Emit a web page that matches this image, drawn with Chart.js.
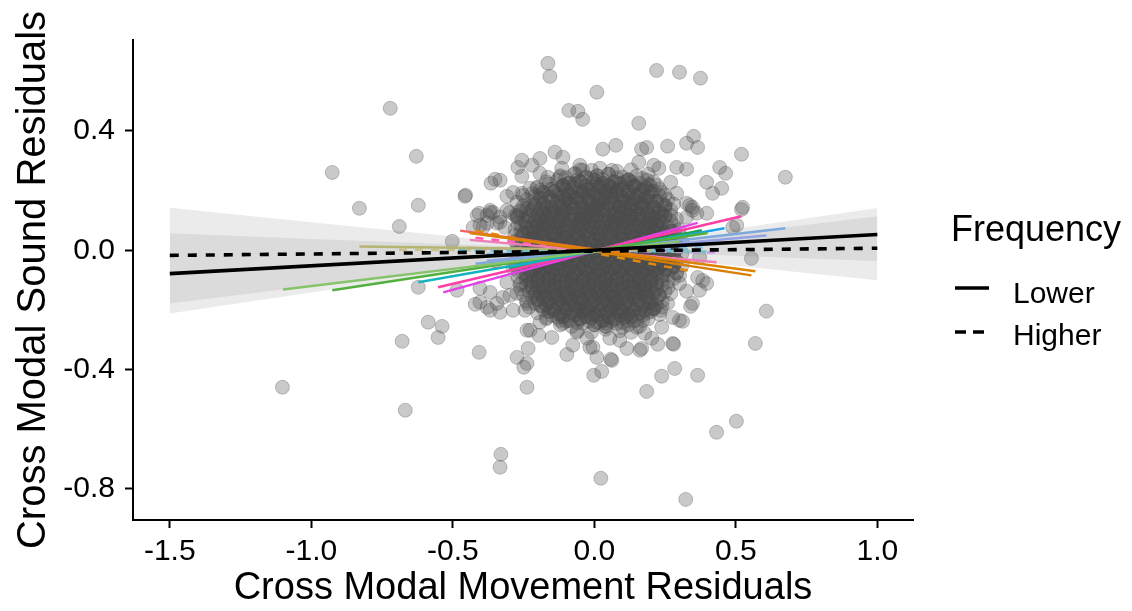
<!DOCTYPE html>
<html>
<head>
<meta charset="utf-8">
<script src="https://cdn.jsdelivr.net/npm/chart.js@4.4.0/dist/chart.umd.min.js"></script>
<style>
  html, body { margin: 0; padding: 0; background: #fff; }
  #wrap { width: 1132px; height: 611px; }
</style>
</head>
<body>
<div id="wrap"><canvas id="residChart" width="1132" height="611"></canvas></div>
<script>
const xTicks = [-1.5, -1.0, -0.5, 0.0, 0.5, 1.0];
const yTicks = [-0.8, -0.4, 0.0, 0.4];

// single trials away from the middle of the cloud [x, y]
const trialPoints = [
  [-0.164,0.627],[-0.157,0.583],[0.009,0.530],[0.220,0.603],[0.301,0.597],[0.375,0.577],
  [-0.721,0.476],[-0.090,0.469],[-0.058,0.466],[-0.041,0.439],[0.157,0.426],
  [-0.926,0.261],[-0.629,0.315],[-0.830,0.141],[-0.622,0.151],[-0.689,0.080],
  [-0.457,0.181],[-0.455,0.185],[-0.502,0.030],[-0.365,0.225],[-0.351,0.238],
  [-0.256,0.302],[-0.270,0.278],[-0.256,0.248],[-0.407,0.124],[-0.368,0.127],
  [-0.428,0.077],[-0.393,0.077],[-0.309,0.181],[-0.287,0.194],[-0.256,0.191],
  [-0.309,0.134],[-0.273,0.111],[-0.344,0.091],[0.030,0.339],[0.076,0.352],
  [0.167,0.339],[0.185,0.345],[0.259,0.349],[0.326,0.359],[0.351,0.382],[0.365,0.345],
  [0.520,0.322],[0.675,0.245],[0.157,0.295],[0.210,0.285],[0.228,0.275],[0.291,0.278],
  [0.326,0.272],[0.443,0.278],[0.464,0.258],[0.397,0.228],[0.418,0.191],[0.450,0.208],
  [0.291,0.191],[0.520,0.137],[0.397,0.124],[0.347,0.134],[0.326,0.158],
  [-0.139,0.329],[-0.111,0.312],[-0.192,0.308],[-0.220,0.285],[-0.192,0.258],
  [-0.164,0.245],[-0.115,0.275],[-0.122,0.245],[-0.069,0.258],[-0.041,0.268],
  [-0.009,0.268],[0.062,0.268],[0.132,0.228],[0.185,0.235],[0.220,0.218],[0.270,0.228],
  [-0.252,0.184],[-0.203,0.211],[-0.192,0.184],[-0.280,0.117],[-0.333,0.235],
  [-0.051,0.285],[0.107,0.228],[0.196,0.218],[0.238,0.194],[-0.228,0.208],
  [-0.368,0.134],[-0.333,0.111],[-0.379,0.091],[-0.263,0.134],[-0.273,0.161],
  [0.347,0.144],[-0.404,0.084],[-0.379,0.117],[-0.358,0.127],[-0.333,0.094],
  [-0.414,0.117],[-0.298,0.127],[-0.273,0.117],[-0.238,0.141],[-0.316,0.077],
  [0.524,0.144],[0.337,0.151],[0.362,0.124],[0.326,0.111],[0.489,0.077],[0.503,0.084],
  [0.555,-0.027],[0.372,-0.023],[0.383,-0.101],[0.291,-0.077],[0.301,-0.111],
  [-0.287,-0.060],[-0.309,-0.107],[-0.263,-0.117],[-0.368,-0.141],[-0.228,-0.107],
  [-0.203,-0.141],[-0.298,-0.151],
  [-1.102,-0.459],[-0.668,-0.536],[-0.330,-0.684],[-0.333,-0.727],[-0.679,-0.305],
  [-0.587,-0.241],[-0.538,-0.255],[-0.552,-0.292],[-0.407,-0.342],[-0.273,-0.359],
  [-0.249,-0.392],[-0.238,-0.459],[-0.622,-0.124],[-0.485,-0.134],[-0.421,-0.181],
  [-0.404,-0.174],[-0.368,-0.201],[-0.333,-0.208],[-0.287,-0.201],[-0.245,-0.201],
  [-0.344,-0.178],[-0.323,-0.158],[-0.273,-0.144],[-0.404,-0.127],[-0.238,-0.268],
  [-0.234,-0.329],[0.608,-0.204],[0.569,-0.312],[0.502,-0.573],[0.432,-0.610],
  [0.023,-0.764],[0.323,-0.835],[0.185,-0.473],[0.238,-0.422],[0.284,-0.396],
  [0.365,-0.419],[-0.150,-0.292],[-0.097,-0.349],[-0.076,-0.318],[-0.002,-0.419],
  [0.026,-0.406],[0.058,-0.365],[0.115,-0.329],[0.167,-0.329],[0.224,-0.315],
  [0.280,-0.315],[0.238,-0.258],[0.234,-0.201],[0.277,-0.225],[0.312,-0.238],
  [0.340,-0.188],[0.326,-0.137],[0.372,-0.134],[0.397,-0.111],[0.365,-0.091],
  [0.301,-0.084],[-0.005,-0.325],[0.009,-0.359],[-0.026,-0.295],[-0.062,-0.275],
  [-0.192,-0.241],[-0.227,-0.268],[-0.122,-0.235],[0.009,-0.241],[0.065,-0.225],
  [0.100,-0.258],[0.150,-0.258],[0.171,-0.235],[0.178,-0.278],[0.136,-0.211],
  [0.055,-0.295],[0.090,-0.302],[-0.238,-0.379],[-0.016,-0.325],[0.062,-0.369],
  [0.161,-0.335],[0.301,-0.235],[0.347,-0.178],[0.277,-0.312],[-0.168,-0.225],
  [-0.111,-0.245],[-0.051,-0.225],[0.044,-0.245],[0.115,-0.235],[0.185,-0.211],
  [-0.379,-0.191],[-0.238,-0.178],[-0.196,-0.285],[0.203,-0.295],[0.259,-0.178]
];

// dense middle of the cloud [x, y, trials stacked there]
const centreCloud = [
  [-0.05,0.27,1],[0.02,0.275,1],[0.08,0.265,1],[0.13,0.27,1],
  [-0.12,0.25,1],[-0.07,0.255,1],[-0.03,0.245,2],[0.01,0.25,2],[0.05,0.255,2],[0.10,0.245,1],[0.15,0.25,1],[0.19,0.255,1],
  [-0.17,0.23,1],[-0.13,0.235,1],[-0.09,0.225,2],[-0.05,0.23,2],[0.0,0.235,2],[0.03,0.225,2],[0.07,0.23,2],[0.12,0.235,2],[0.16,0.225,1],[0.21,0.23,1],
  [-0.20,0.21,1],[-0.15,0.205,2],[-0.11,0.215,2],[-0.07,0.21,2],[-0.02,0.205,3],[0.02,0.215,3],[0.06,0.21,3],[0.10,0.205,2],[0.14,0.215,2],[0.18,0.21,2],[0.23,0.205,1],
  [-0.22,0.19,1],[-0.18,0.195,2],[-0.13,0.185,2],[-0.09,0.19,3],[-0.04,0.195,3],[0.0,0.185,3],[0.04,0.19,3],[0.08,0.195,3],[0.12,0.185,3],[0.16,0.19,2],[0.20,0.195,2],[0.25,0.185,1],
  [-0.24,0.17,1],[-0.19,0.175,2],[-0.15,0.165,2],[-0.10,0.17,3],[-0.06,0.175,3],[-0.02,0.165,3],[0.02,0.17,3],[0.06,0.175,3],[0.10,0.165,3],[0.14,0.17,3],[0.18,0.175,2],[0.22,0.165,2],[0.26,0.17,1],
  [-0.25,0.15,1],[-0.21,0.155,2],[-0.17,0.145,2],[-0.12,0.15,3],[-0.08,0.155,3],[-0.04,0.145,3],[0.01,0.15,3],[0.05,0.155,3],[0.09,0.145,3],[0.13,0.15,3],[0.17,0.155,3],[0.21,0.145,2],[0.25,0.15,2],[0.28,0.155,1],
  [-0.26,0.13,1],[-0.22,0.135,2],[-0.18,0.125,3],[-0.14,0.13,3],[-0.10,0.135,3],[-0.05,0.125,3],[-0.01,0.13,3],[0.03,0.135,3],[0.07,0.125,3],[0.11,0.13,3],[0.15,0.135,3],[0.19,0.125,3],[0.23,0.13,2],[0.27,0.135,1],
  [-0.27,0.11,1],[-0.23,0.115,2],[-0.19,0.105,3],[-0.15,0.11,3],[-0.11,0.115,3],[-0.07,0.105,3],[-0.03,0.11,3],[0.01,0.115,3],[0.05,0.105,3],[0.09,0.11,3],[0.13,0.115,3],[0.17,0.105,3],[0.21,0.11,3],[0.25,0.115,2],[0.29,0.105,1],
  [-0.27,0.09,1],[-0.24,0.095,2],[-0.20,0.085,3],[-0.16,0.09,3],[-0.12,0.095,3],[-0.08,0.085,3],[-0.04,0.09,3],[0.0,0.095,3],[0.04,0.085,3],[0.08,0.09,3],[0.12,0.095,3],[0.16,0.085,3],[0.20,0.09,3],[0.24,0.095,2],[0.28,0.085,1],
  [-0.28,0.07,1],[-0.24,0.075,2],[-0.21,0.065,3],[-0.17,0.07,3],[-0.13,0.075,3],[-0.09,0.065,3],[-0.05,0.07,3],[-0.01,0.075,3],[0.03,0.065,3],[0.07,0.07,3],[0.11,0.075,3],[0.15,0.065,3],[0.19,0.07,3],[0.23,0.075,3],[0.27,0.065,2],[0.30,0.07,1],
  [-0.28,0.05,1],[-0.25,0.055,2],[-0.21,0.045,3],[-0.18,0.05,3],[-0.14,0.055,3],[-0.10,0.045,3],[-0.06,0.05,3],[-0.02,0.055,3],[0.02,0.045,3],[0.06,0.05,3],[0.10,0.055,3],[0.14,0.045,3],[0.18,0.05,3],[0.22,0.055,3],[0.26,0.045,2],[0.30,0.05,1],
  [-0.28,0.03,1],[-0.24,0.035,2],[-0.20,0.025,3],[-0.16,0.03,3],[-0.12,0.035,3],[-0.08,0.025,3],[-0.04,0.03,3],[0.0,0.035,3],[0.04,0.025,3],[0.08,0.03,3],[0.12,0.035,3],[0.16,0.025,3],[0.20,0.03,3],[0.24,0.035,3],[0.28,0.025,2],[0.31,0.03,1],
  [-0.27,0.01,1],[-0.23,0.015,2],[-0.19,0.005,3],[-0.15,0.01,3],[-0.11,0.015,3],[-0.07,0.005,3],[-0.03,0.01,3],[0.01,0.015,3],[0.05,0.005,3],[0.09,0.01,3],[0.13,0.015,3],[0.17,0.005,3],[0.21,0.01,3],[0.25,0.015,2],[0.29,0.005,1],
  [-0.28,-0.01,1],[-0.24,-0.005,2],[-0.20,-0.015,3],[-0.16,-0.01,3],[-0.12,-0.005,3],[-0.08,-0.015,3],[-0.04,-0.01,3],[0.0,-0.005,3],[0.04,-0.015,3],[0.08,-0.01,3],[0.12,-0.005,3],[0.16,-0.015,3],[0.20,-0.01,3],[0.24,-0.005,3],[0.28,-0.015,2],[0.31,-0.01,1],
  [-0.27,-0.03,1],[-0.23,-0.025,2],[-0.19,-0.035,3],[-0.15,-0.03,3],[-0.11,-0.025,3],[-0.07,-0.035,3],[-0.03,-0.03,3],[0.01,-0.025,3],[0.05,-0.035,3],[0.09,-0.03,3],[0.13,-0.025,3],[0.17,-0.035,3],[0.21,-0.03,3],[0.25,-0.025,2],[0.29,-0.035,1],
  [-0.28,-0.05,1],[-0.24,-0.045,2],[-0.20,-0.055,3],[-0.16,-0.05,3],[-0.12,-0.045,3],[-0.08,-0.055,3],[-0.04,-0.05,3],[0.0,-0.045,3],[0.04,-0.055,3],[0.08,-0.05,3],[0.12,-0.045,3],[0.16,-0.055,3],[0.20,-0.05,3],[0.24,-0.045,3],[0.28,-0.055,2],[0.31,-0.05,1],
  [-0.27,-0.07,1],[-0.23,-0.065,2],[-0.19,-0.075,3],[-0.15,-0.07,3],[-0.11,-0.065,3],[-0.07,-0.075,3],[-0.03,-0.07,3],[0.01,-0.065,3],[0.05,-0.075,3],[0.09,-0.07,3],[0.13,-0.065,3],[0.17,-0.075,3],[0.21,-0.07,3],[0.25,-0.065,2],[0.29,-0.075,1],
  [-0.27,-0.09,1],[-0.24,-0.085,2],[-0.20,-0.095,3],[-0.16,-0.09,3],[-0.12,-0.085,3],[-0.08,-0.095,3],[-0.04,-0.09,3],[0.0,-0.085,3],[0.04,-0.095,3],[0.08,-0.09,3],[0.12,-0.085,3],[0.16,-0.095,3],[0.20,-0.09,3],[0.24,-0.085,2],[0.28,-0.095,1],
  [-0.26,-0.11,1],[-0.22,-0.105,2],[-0.18,-0.115,3],[-0.14,-0.11,3],[-0.10,-0.105,3],[-0.06,-0.115,3],[-0.02,-0.11,3],[0.02,-0.105,3],[0.06,-0.115,3],[0.10,-0.11,3],[0.14,-0.105,3],[0.18,-0.115,3],[0.22,-0.11,2],[0.26,-0.105,1],
  [-0.26,-0.13,1],[-0.22,-0.125,2],[-0.18,-0.135,3],[-0.14,-0.13,3],[-0.10,-0.125,3],[-0.06,-0.135,3],[-0.02,-0.13,3],[0.02,-0.125,3],[0.06,-0.135,3],[0.10,-0.13,3],[0.14,-0.125,3],[0.18,-0.135,3],[0.22,-0.13,2],[0.26,-0.125,1],
  [-0.25,-0.15,1],[-0.21,-0.145,2],[-0.17,-0.155,3],[-0.13,-0.15,3],[-0.09,-0.145,3],[-0.05,-0.155,3],[-0.01,-0.15,3],[0.03,-0.145,3],[0.07,-0.155,3],[0.11,-0.15,3],[0.15,-0.145,3],[0.19,-0.155,2],[0.23,-0.15,2],[0.27,-0.145,1],
  [-0.24,-0.17,1],[-0.20,-0.165,2],[-0.16,-0.175,2],[-0.12,-0.17,3],[-0.08,-0.165,3],[-0.04,-0.175,3],[0.0,-0.17,3],[0.04,-0.165,3],[0.08,-0.175,3],[0.12,-0.17,3],[0.16,-0.165,2],[0.20,-0.175,2],[0.24,-0.17,1],
  [-0.23,-0.19,1],[-0.19,-0.185,2],[-0.15,-0.195,2],[-0.11,-0.19,3],[-0.07,-0.185,3],[-0.03,-0.195,3],[0.01,-0.19,3],[0.05,-0.185,3],[0.09,-0.195,3],[0.13,-0.19,2],[0.17,-0.185,2],[0.21,-0.195,2],[0.24,-0.19,1],
  [-0.20,-0.21,1],[-0.16,-0.205,2],[-0.12,-0.215,2],[-0.08,-0.21,2],[-0.04,-0.205,3],[0.0,-0.215,3],[0.04,-0.21,3],[0.08,-0.205,2],[0.12,-0.215,2],[0.16,-0.21,2],[0.20,-0.205,1],[0.23,-0.215,1],
  [-0.17,-0.23,1],[-0.13,-0.225,1],[-0.09,-0.235,2],[-0.05,-0.23,2],[-0.01,-0.225,2],[0.03,-0.235,2],[0.07,-0.23,2],[0.11,-0.225,2],[0.15,-0.235,1],[0.19,-0.23,1],
  [-0.12,-0.25,1],[-0.08,-0.255,1],[-0.04,-0.245,1],[0.0,-0.25,2],[0.04,-0.255,2],[0.08,-0.245,1],[0.12,-0.25,1],[0.16,-0.255,1],
  [-0.06,-0.27,1],[-0.01,-0.275,1],[0.04,-0.265,1],[0.09,-0.27,1],[0.13,-0.275,1]
];

// second, offset layer of the dense middle [x, y, trials stacked there]
const centreCloudB = [
  [-0.10,0.244,1],[-0.06,0.236,1],[-0.01,0.242,1],[0.03,0.238,1],[0.08,0.243,1],[0.12,0.237,1],[0.17,0.241,1],
  [-0.16,0.222,1],[-0.11,0.218,2],[-0.07,0.223,2],[-0.03,0.217,2],[0.01,0.222,2],[0.05,0.218,2],[0.09,0.223,2],[0.14,0.217,2],[0.19,0.221,1],
  [-0.19,0.202,1],[-0.14,0.198,2],[-0.10,0.203,2],[-0.05,0.197,2],[-0.01,0.202,2],[0.04,0.198,2],[0.08,0.203,2],[0.12,0.197,2],[0.17,0.202,2],[0.21,0.198,1],
  [-0.21,0.182,1],[-0.16,0.178,2],[-0.11,0.183,2],[-0.07,0.177,2],[-0.02,0.182,2],[0.02,0.178,2],[0.06,0.183,2],[0.10,0.177,2],[0.15,0.182,2],[0.19,0.178,2],[0.23,0.183,1],
  [-0.22,0.162,1],[-0.18,0.158,2],[-0.13,0.163,2],[-0.09,0.157,2],[-0.05,0.162,2],[-0.01,0.158,2],[0.03,0.163,2],[0.07,0.157,2],[0.11,0.162,2],[0.16,0.158,2],[0.20,0.163,2],[0.24,0.157,1],
  [-0.23,0.142,1],[-0.19,0.138,2],[-0.15,0.143,2],[-0.11,0.137,2],[-0.07,0.142,2],[-0.03,0.138,2],[0.01,0.143,2],[0.05,0.137,2],[0.09,0.142,2],[0.13,0.138,2],[0.17,0.143,2],[0.21,0.137,2],[0.25,0.142,1],
  [-0.24,0.122,1],[-0.20,0.118,2],[-0.16,0.123,2],[-0.12,0.117,2],[-0.08,0.122,2],[-0.04,0.118,2],[0.0,0.123,2],[0.04,0.117,2],[0.08,0.122,2],[0.12,0.118,2],[0.16,0.123,2],[0.20,0.117,2],[0.24,0.122,2],[0.27,0.118,1],
  [-0.25,0.102,1],[-0.21,0.098,2],[-0.17,0.103,2],[-0.13,0.097,2],[-0.09,0.102,2],[-0.05,0.098,2],[-0.01,0.103,2],[0.03,0.097,2],[0.07,0.102,2],[0.11,0.098,2],[0.15,0.103,2],[0.19,0.097,2],[0.23,0.102,2],[0.27,0.098,1],
  [-0.26,0.082,1],[-0.22,0.078,2],[-0.18,0.083,2],[-0.14,0.077,2],[-0.10,0.082,2],[-0.06,0.078,2],[-0.02,0.083,2],[0.02,0.077,2],[0.06,0.082,2],[0.10,0.078,2],[0.14,0.083,2],[0.18,0.077,2],[0.22,0.082,2],[0.26,0.078,1],
  [-0.26,0.062,1],[-0.23,0.058,2],[-0.19,0.063,2],[-0.15,0.057,2],[-0.11,0.062,2],[-0.07,0.058,2],[-0.03,0.063,2],[0.01,0.057,2],[0.05,0.062,2],[0.09,0.058,2],[0.13,0.063,2],[0.17,0.057,2],[0.21,0.062,2],[0.25,0.058,2],[0.28,0.063,1],
  [-0.26,0.042,1],[-0.22,0.038,2],[-0.18,0.043,2],[-0.14,0.037,2],[-0.10,0.042,2],[-0.06,0.038,2],[-0.02,0.043,2],[0.02,0.037,2],[0.06,0.042,2],[0.10,0.038,2],[0.14,0.043,2],[0.18,0.037,2],[0.22,0.042,2],[0.26,0.038,2],[0.29,0.043,1],
  [-0.25,0.022,1],[-0.21,0.018,2],[-0.17,0.023,2],[-0.13,0.017,2],[-0.09,0.022,2],[-0.05,0.018,2],[-0.01,0.023,2],[0.03,0.017,2],[0.07,0.022,2],[0.11,0.018,2],[0.15,0.023,2],[0.19,0.017,2],[0.23,0.022,2],[0.27,0.018,1],
  [-0.26,0.002,1],[-0.22,-0.002,2],[-0.18,0.003,2],[-0.14,-0.003,2],[-0.10,0.002,2],[-0.06,-0.002,2],[-0.02,0.003,2],[0.02,-0.003,2],[0.06,0.002,2],[0.10,-0.002,2],[0.14,0.003,2],[0.18,-0.003,2],[0.22,0.002,2],[0.26,-0.002,2],[0.29,0.003,1],
  [-0.25,-0.018,1],[-0.21,-0.022,2],[-0.17,-0.017,2],[-0.13,-0.023,2],[-0.09,-0.018,2],[-0.05,-0.022,2],[-0.01,-0.017,2],[0.03,-0.023,2],[0.07,-0.018,2],[0.11,-0.022,2],[0.15,-0.017,2],[0.19,-0.023,2],[0.23,-0.018,2],[0.27,-0.022,1],
  [-0.26,-0.038,1],[-0.22,-0.042,2],[-0.18,-0.037,2],[-0.14,-0.043,2],[-0.10,-0.038,2],[-0.06,-0.042,2],[-0.02,-0.037,2],[0.02,-0.043,2],[0.06,-0.038,2],[0.10,-0.042,2],[0.14,-0.037,2],[0.18,-0.043,2],[0.22,-0.038,2],[0.26,-0.042,2],[0.29,-0.037,1],
  [-0.25,-0.058,1],[-0.21,-0.062,2],[-0.17,-0.057,2],[-0.13,-0.063,2],[-0.09,-0.058,2],[-0.05,-0.062,2],[-0.01,-0.057,2],[0.03,-0.063,2],[0.07,-0.058,2],[0.11,-0.062,2],[0.15,-0.057,2],[0.19,-0.063,2],[0.23,-0.058,2],[0.27,-0.062,1],
  [-0.25,-0.078,1],[-0.22,-0.082,2],[-0.18,-0.077,2],[-0.14,-0.083,2],[-0.10,-0.078,2],[-0.06,-0.082,2],[-0.02,-0.077,2],[0.02,-0.083,2],[0.06,-0.078,2],[0.10,-0.082,2],[0.14,-0.077,2],[0.18,-0.083,2],[0.22,-0.078,2],[0.26,-0.082,1],
  [-0.24,-0.098,1],[-0.20,-0.102,2],[-0.16,-0.097,2],[-0.12,-0.103,2],[-0.08,-0.098,2],[-0.04,-0.102,2],[0.0,-0.097,2],[0.04,-0.103,2],[0.08,-0.098,2],[0.12,-0.102,2],[0.16,-0.097,2],[0.20,-0.103,2],[0.24,-0.098,1],
  [-0.24,-0.118,1],[-0.20,-0.122,2],[-0.16,-0.117,2],[-0.12,-0.123,2],[-0.08,-0.118,2],[-0.04,-0.122,2],[0.0,-0.117,2],[0.04,-0.123,2],[0.08,-0.118,2],[0.12,-0.122,2],[0.16,-0.117,2],[0.20,-0.123,2],[0.24,-0.118,1],
  [-0.23,-0.138,1],[-0.19,-0.142,2],[-0.15,-0.137,2],[-0.11,-0.143,2],[-0.07,-0.138,2],[-0.03,-0.142,2],[0.01,-0.137,2],[0.05,-0.143,2],[0.09,-0.138,2],[0.13,-0.142,2],[0.17,-0.137,2],[0.21,-0.143,2],[0.25,-0.138,1],
  [-0.22,-0.158,1],[-0.18,-0.162,2],[-0.14,-0.157,2],[-0.10,-0.163,2],[-0.06,-0.158,2],[-0.02,-0.162,2],[0.02,-0.157,2],[0.06,-0.163,2],[0.10,-0.158,2],[0.14,-0.162,2],[0.18,-0.157,2],[0.22,-0.163,1],
  [-0.21,-0.178,1],[-0.17,-0.182,2],[-0.13,-0.177,2],[-0.09,-0.183,2],[-0.05,-0.178,2],[-0.01,-0.182,2],[0.03,-0.177,2],[0.07,-0.183,2],[0.11,-0.178,2],[0.15,-0.182,2],[0.19,-0.177,2],[0.22,-0.183,1],
  [-0.18,-0.198,1],[-0.14,-0.202,2],[-0.10,-0.197,2],[-0.06,-0.203,2],[-0.02,-0.198,2],[0.02,-0.202,2],[0.06,-0.197,2],[0.10,-0.203,2],[0.14,-0.198,2],[0.18,-0.202,2],[0.21,-0.197,1],
  [-0.15,-0.218,1],[-0.11,-0.222,2],[-0.07,-0.217,2],[-0.03,-0.223,2],[0.01,-0.218,2],[0.05,-0.222,2],[0.09,-0.217,2],[0.13,-0.223,2],[0.17,-0.218,1],
  [-0.10,-0.238,1],[-0.06,-0.242,1],[-0.02,-0.237,1],[0.02,-0.243,1],[0.06,-0.238,1],[0.10,-0.242,1],[0.14,-0.237,1]
];

// group fits, one per frequency condition (ends at x = -1.5 and 1.0)
const fitX = [-1.5, 1.0];
const lowerFit = [-0.078, 0.053];
const higherFit = [-0.017, 0.007];

// confidence ribbons around the group fits
const ribbonX  = [-1.5, -1.0, -0.5, -0.25, 0, 0.25, 0.5, 1.0];
const lowerHi  = [0.057, 0.038, 0.020, 0.011, 0.007, 0.037, 0.072, 0.142];
const lowerLo  = [-0.212, -0.141, -0.070, -0.035, -0.005, -0.009, -0.018, -0.036];
const higherHi = [0.143, 0.094, 0.046, 0.022, 0.004, 0.026, 0.056, 0.114];
const higherLo = [-0.178, -0.120, -0.062, -0.033, -0.010, -0.028, -0.052, -0.100];

// per-participant fits [x0, y0, x1, y1]
const subjLower = [
  [-1.10,-0.131,0.30,0.030],[-0.926,-0.134,0.40,0.058],[-0.622,-0.107,0.35,0.055],
  [-0.552,-0.124,0.52,0.114],[-0.534,-0.141,0.365,0.092],[-0.30,-0.055,0.46,0.074],
  [-0.42,-0.045,0.675,0.074],[-0.38,-0.035,0.608,0.050],[-0.30,-0.060,0.38,0.067],
  [-0.44,0.058,0.569,-0.070],[-0.40,0.055,0.555,-0.084],[-0.474,0.066,0.25,-0.030],
  [-0.44,0.035,0.432,-0.040],[-0.83,0.013,0.20,0.000]
];
const subjLowerColors = ['#87C36A','#52B13E','#15B3BE','#FF3FA6','#E442E8','#1EA1EA',
  '#7EA9DE','#94A3E6','#1FA548','#DC8300','#D97D00','#F4645E','#F07CB5','#B5B470'];
const subjHigher = [
  [-0.48,0.000,0.40,-0.004],[-0.45,0.008,0.45,-0.008],[-0.42,0.042,0.35,-0.036],
  [-0.36,-0.062,0.30,0.048],[-0.42,0.066,0.33,-0.068],[-0.69,0.002,0.30,-0.004],
  [-0.38,-0.012,0.40,0.010]
];
const subjHigherColors = ['#6FC3CF','#C39BE4','#FF5CB8','#FF3FA6','#E08A10','#C8C28C','#86BFE8'];

const FONT = "'Liberation Sans', Arial, Helvetica, sans-serif";
Chart.defaults.font.family = FONT;
Chart.defaults.color = '#000';

const points = trialPoints.map(p => ({x: p[0], y: p[1]}));
centreCloud.concat(centreCloudB).forEach(p => {
  for (let k = 0; k < p[2]; k++) points.push({x: p[0], y: p[1]});
});

const toXY = (xs, ys) => xs.map((x, i) => ({x, y: ys[i]}));
const segment = s => [{x: s[0], y: s[1]}, {x: s[2], y: s[3]}];

const datasets = [
  { type: 'line', label: 'Lower', data: toXY(fitX, lowerFit), borderColor: '#000',
    borderWidth: 3.6, pointRadius: 0, order: 0 },
  { type: 'line', label: 'Higher', data: toXY(fitX, higherFit), borderColor: '#000',
    borderWidth: 3.6, borderDash: [9, 9], pointRadius: 0, order: 0 }
];
subjLower.forEach((s, i) => datasets.push({
  type: 'line', data: segment(s), borderColor: subjLowerColors[i], borderWidth: 2.5,
  pointRadius: 0, order: 1
}));
subjHigher.forEach((s, i) => datasets.push({
  type: 'line', data: segment(s), borderColor: subjHigherColors[i], borderWidth: 2.5,
  borderDash: [8, 8], pointRadius: 0, order: 1
}));
datasets.push({
  type: 'scatter', data: points, pointRadius: 7, borderWidth: 1,
  backgroundColor: 'rgba(77,77,77,0.3)', borderColor: 'rgba(77,77,77,0.3)', order: 2
});
const ribbonFill = 'rgba(153,153,153,0.2)';
[[lowerHi, lowerLo], [higherHi, higherLo]].forEach(([hi, lo]) => {
  datasets.push({ type: 'line', data: toXY(ribbonX, hi), borderWidth: 0, pointRadius: 0,
    backgroundColor: ribbonFill, fill: '+1', order: 3 });
  datasets.push({ type: 'line', data: toXY(ribbonX, lo), borderWidth: 0, pointRadius: 0,
    fill: false, order: 3 });
});

// legend for the line types, drawn in the right margin
const frequencyKey = {
  id: 'frequencyKey',
  afterDraw(chart) {
    const ctx = chart.ctx;
    const x0 = chart.chartArea.right + 38;
    ctx.save();
    ctx.fillStyle = '#000';
    ctx.strokeStyle = '#000';
    ctx.textBaseline = 'alphabetic';
    ctx.font = '36px ' + FONT;
    ctx.fillText('Frequency', x0, 241);
    ctx.font = '30px ' + FONT;
    ctx.lineWidth = 3.5;
    ctx.beginPath(); ctx.moveTo(x0 + 4, 288); ctx.lineTo(x0 + 38, 288); ctx.stroke();
    ctx.fillText('Lower', x0 + 62, 303);
    ctx.setLineDash([11, 7]);
    ctx.beginPath(); ctx.moveTo(x0 + 4, 332); ctx.lineTo(x0 + 33, 332); ctx.stroke();
    ctx.setLineDash([]);
    ctx.fillText('Higher', x0 + 62, 345);
    ctx.restore();
  }
};

new Chart(document.getElementById('residChart'), {
  type: 'scatter',
  data: { datasets },
  options: {
    responsive: false,
    animation: false,
    events: [],
    layout: { padding: { left: 0, top: 40, right: 219, bottom: 0 } },
    plugins: { legend: { display: false }, tooltip: { enabled: false } },
    scales: {
      x: {
        type: 'linear', min: -1.63, max: 1.126,
        afterBuildTicks: s => { s.ticks = xTicks.map(v => ({value: v})); },
        afterFit: s => { s.height = 91; },
        ticks: { font: { size: 30 }, color: '#000', padding: 6,
          callback: v => v.toFixed(1) },
        grid: { drawOnChartArea: false, tickLength: 8, tickWidth: 2, tickColor: '#000' },
        border: { color: '#000', width: 2 },
        title: { display: true, text: 'Cross Modal Movement Residuals',
          font: { size: 38 }, padding: { top: 0, bottom: 0 }, color: '#000' }
      },
      y: {
        type: 'linear', min: -0.904, max: 0.705,
        afterBuildTicks: s => { s.ticks = yTicks.map(v => ({value: v})); },
        afterFit: s => { s.width = 133; },
        ticks: { font: { size: 30 }, color: '#000', padding: 10,
          callback: v => v.toFixed(1) },
        grid: { drawOnChartArea: false, tickLength: 8, tickWidth: 2, tickColor: '#000' },
        border: { color: '#000', width: 2 },
        title: { display: true, text: 'Cross Modal Sound Residuals',
          font: { size: 40 }, padding: { top: 10, bottom: 0 }, color: '#000' }
      }
    }
  },
  plugins: [frequencyKey]
});
</script>
</body>
</html>
